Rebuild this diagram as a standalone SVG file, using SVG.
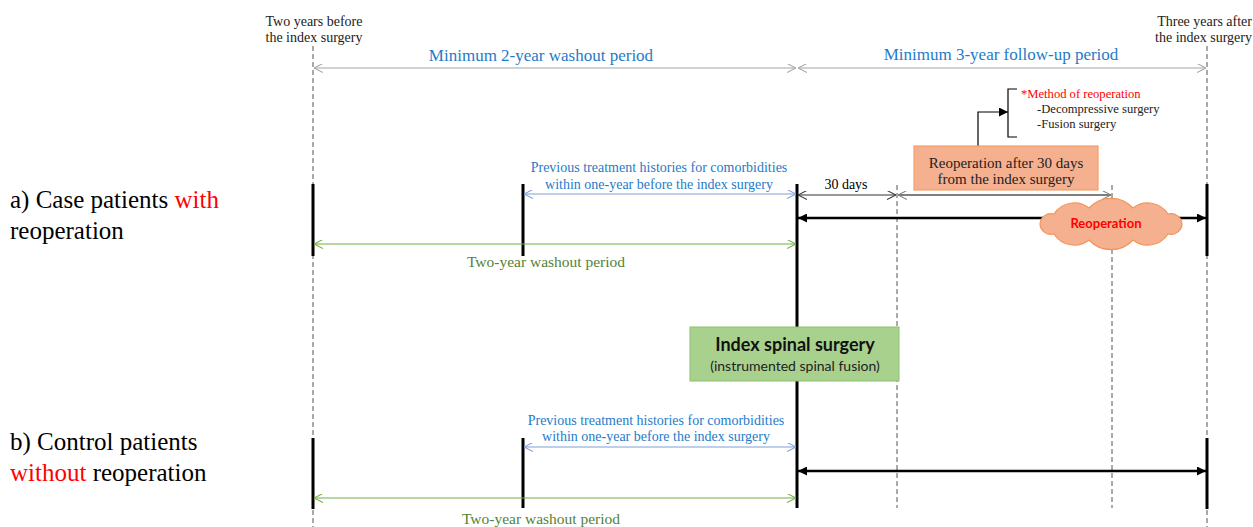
<svg xmlns="http://www.w3.org/2000/svg" width="1253" height="527" viewBox="0 0 1253 527">
<style>
.serif{font-family:"Liberation Serif","Times New Roman",serif}
.sans{font-family:Lato,"Liberation Sans",sans-serif}
.dash{stroke:#555;stroke-width:1;stroke-dasharray:5,3;fill:none}
.bar{stroke:#000;stroke-width:3;fill:none}
.blue{fill:#1e7bc8}
.green{fill:#548235}
.red{fill:#ff0000}
</style>
<defs>
<marker id="chGray" viewBox="0 0 10 10" refX="10" refY="5" markerWidth="9" markerHeight="9" markerUnits="userSpaceOnUse" orient="auto-start-reverse"><path d="M0,0 L10,5 L0,10" fill="none" stroke="#a6a6a6" stroke-width="1.2"/></marker>
<marker id="chBlue" viewBox="0 0 10 10" refX="10" refY="5" markerWidth="9" markerHeight="9" markerUnits="userSpaceOnUse" orient="auto-start-reverse"><path d="M0,0 L10,5 L0,10" fill="none" stroke="#7f9fdc" stroke-width="1.2"/></marker>
<marker id="chGreen" viewBox="0 0 10 10" refX="10" refY="5" markerWidth="9" markerHeight="9" markerUnits="userSpaceOnUse" orient="auto-start-reverse"><path d="M0,0 L10,5 L0,10" fill="none" stroke="#70ad47" stroke-width="1.2"/></marker>
<marker id="chBlack" viewBox="0 0 10 10" refX="10" refY="5" markerWidth="9" markerHeight="9" markerUnits="userSpaceOnUse" orient="auto-start-reverse"><path d="M0,0 L10,5 L0,10" fill="none" stroke="#333" stroke-width="1.2"/></marker>
<marker id="chDark" viewBox="0 0 10 10" refX="10" refY="5" markerWidth="9" markerHeight="9" markerUnits="userSpaceOnUse" orient="auto-start-reverse"><path d="M0,0 L10,5 L0,10" fill="none" stroke="#7f7f7f" stroke-width="1.2"/></marker>
<marker id="tri" viewBox="0 0 10 10" refX="10" refY="5" markerWidth="9" markerHeight="9" markerUnits="userSpaceOnUse" orient="auto-start-reverse"><path d="M0,0 L10,5 L0,10 Z" fill="#000"/></marker>
</defs>
<rect width="1253" height="527" fill="#fff"/>

<g id="timeline">
<line class="dash" x1="313" y1="46" x2="313" y2="527"/>
<line class="dash" x1="1207" y1="46" x2="1207" y2="527"/>
<line class="dash" x1="897" y1="185" x2="897" y2="508"/>
<line class="dash" x1="1112" y1="185" x2="1112" y2="508"/>
<line class="bar" x1="313" y1="184" x2="313" y2="256"/>
<line class="bar" x1="523" y1="184" x2="523" y2="256"/>
<line class="bar" x1="797" y1="184" x2="797" y2="508"/>
<line class="bar" x1="1207" y1="184" x2="1207" y2="256"/>
<line class="bar" x1="313" y1="438" x2="313" y2="509"/>
<line class="bar" x1="523" y1="438" x2="523" y2="508"/>
<line class="bar" x1="1207" y1="438" x2="1207" y2="509"/>
</g>

<g id="connectors">
<line x1="314" y1="68" x2="796" y2="68" stroke="#a6a6a6" stroke-width="1.2" marker-start="url(#chGray)" marker-end="url(#chGray)"/>
<line x1="798" y1="68" x2="1206" y2="68" stroke="#a6a6a6" stroke-width="1.2" marker-start="url(#chGray)" marker-end="url(#chGray)"/>
<line x1="524" y1="194" x2="796" y2="194" stroke="#7f9fdc" stroke-width="1.2" marker-start="url(#chBlue)" marker-end="url(#chBlue)"/>
<line x1="798" y1="195" x2="896" y2="195" stroke="#333" stroke-width="1.2" marker-start="url(#chBlack)" marker-end="url(#chBlack)"/>
<line x1="898" y1="195" x2="1111" y2="195" stroke="#7f7f7f" stroke-width="2" marker-start="url(#chDark)" marker-end="url(#chDark)"/>
<line x1="798" y1="218" x2="1206" y2="218" stroke="#000" stroke-width="2.5" marker-start="url(#tri)" marker-end="url(#tri)"/>
<line x1="314" y1="244" x2="796" y2="244" stroke="#70ad47" stroke-width="1.2" marker-start="url(#chGreen)" marker-end="url(#chGreen)"/>
<line x1="524" y1="447" x2="796" y2="447" stroke="#7f9fdc" stroke-width="1.2" marker-start="url(#chBlue)" marker-end="url(#chBlue)"/>
<line x1="798" y1="471" x2="1206" y2="471" stroke="#000" stroke-width="2.5" marker-start="url(#tri)" marker-end="url(#tri)"/>
<line x1="314" y1="498" x2="796" y2="498" stroke="#70ad47" stroke-width="1.2" marker-start="url(#chGreen)" marker-end="url(#chGreen)"/>
<polyline points="978,146 978,112 1008,112" fill="none" stroke="#000" stroke-width="1.2" marker-end="url(#tri)"/>
<polyline points="1017,89 1008,89 1008,137 1017,137" fill="none" stroke="#000" stroke-width="1.2"/>
</g>

<g id="labels-top" class="serif" font-size="14" fill="#222">
<text x="314" y="26" text-anchor="middle">Two years before</text>
<text x="314" y="42" text-anchor="middle">the index surgery</text>
<text x="1252" y="26" text-anchor="end">Three years after</text>
<text x="1252" y="42" text-anchor="end">the index surgery</text>
<text class="blue" x="541" y="61" font-size="17" text-anchor="middle">Minimum 2-year washout period</text>
<text class="blue" x="1001" y="60" font-size="17" text-anchor="middle">Minimum 3-year follow-up period</text>
</g>

<g id="row-a-label" class="serif" font-size="25" fill="#000">
<text x="10" y="208">a) Case patients <tspan class="red">with</tspan></text>
<text x="10" y="239">reoperation</text>
</g>
<g id="row-b-label" class="serif" font-size="25" fill="#000">
<text x="10" y="450">b) Control patients</text>
<text x="10" y="481"><tspan class="red">without</tspan> reoperation</text>
</g>

<g id="row-a-texts" class="serif" font-size="14">
<text class="blue" x="659" y="172" text-anchor="middle">Previous treatment histories for comorbidities</text>
<text class="blue" x="659" y="189" text-anchor="middle">within one-year before the index surgery</text>
<text x="846" y="189" text-anchor="middle" fill="#000">30 days</text>
<text class="green" x="546" y="267" font-size="15.5" text-anchor="middle">Two-year washout period</text>
</g>
<g id="row-b-texts" class="serif" font-size="14">
<text class="blue" x="656" y="425" text-anchor="middle">Previous treatment histories for comorbidities</text>
<text class="blue" x="656" y="441" text-anchor="middle">within one-year before the index surgery</text>
<text class="green" x="541" y="524" font-size="15.5" text-anchor="middle">Two-year washout period</text>
</g>

<g id="reop-box">
<rect x="914" y="146" width="184" height="44" fill="#f5b08f" stroke="#f4a06c" stroke-width="1.2"/>
<text class="serif" x="1006" y="168" font-size="15" text-anchor="middle" fill="#222">Reoperation after 30 days</text>
<text class="serif" x="1006" y="184" font-size="15" text-anchor="middle" fill="#222">from the index surgery</text>
</g>

<g id="method" class="serif" font-size="12.6">
<text class="red" x="1021" y="98">*Method of reoperation</text>
<text x="1037" y="113" fill="#222">-Decompressive surgery</text>
<text x="1037" y="128" fill="#222">-Fusion surgery</text>
</g>

<g id="cloud">
<path d="M1182,224 A11,11 0 0 1 1168,234 A24,24 0 0 1 1133,240 A30,30 0 0 1 1089,240 A24,24 0 0 1 1054,234 A11,11 0 0 1 1040,224 A11,11 0 0 1 1054,214 A24,24 0 0 1 1089,208 A30,30 0 0 1 1133,208 A24,24 0 0 1 1168,214 A11,11 0 0 1 1182,224 Z" fill="#f5b08f" stroke="#f0955a" stroke-width="1.2"/>
<text class="sans red" x="1106" y="228" font-size="13" font-weight="bold" text-anchor="middle">Reoperation</text>
</g>

<g id="index-box">
<rect x="690" y="327" width="209" height="54" fill="#a9d18e" stroke="#8cc070" stroke-width="1"/>
<text class="sans" x="795" y="351" font-size="18" font-weight="bold" text-anchor="middle" fill="#111">Index spinal surgery</text>
<text class="sans" x="795" y="371" font-size="14" text-anchor="middle" fill="#222">(instrumented spinal fusion)</text>
</g>
</svg>
